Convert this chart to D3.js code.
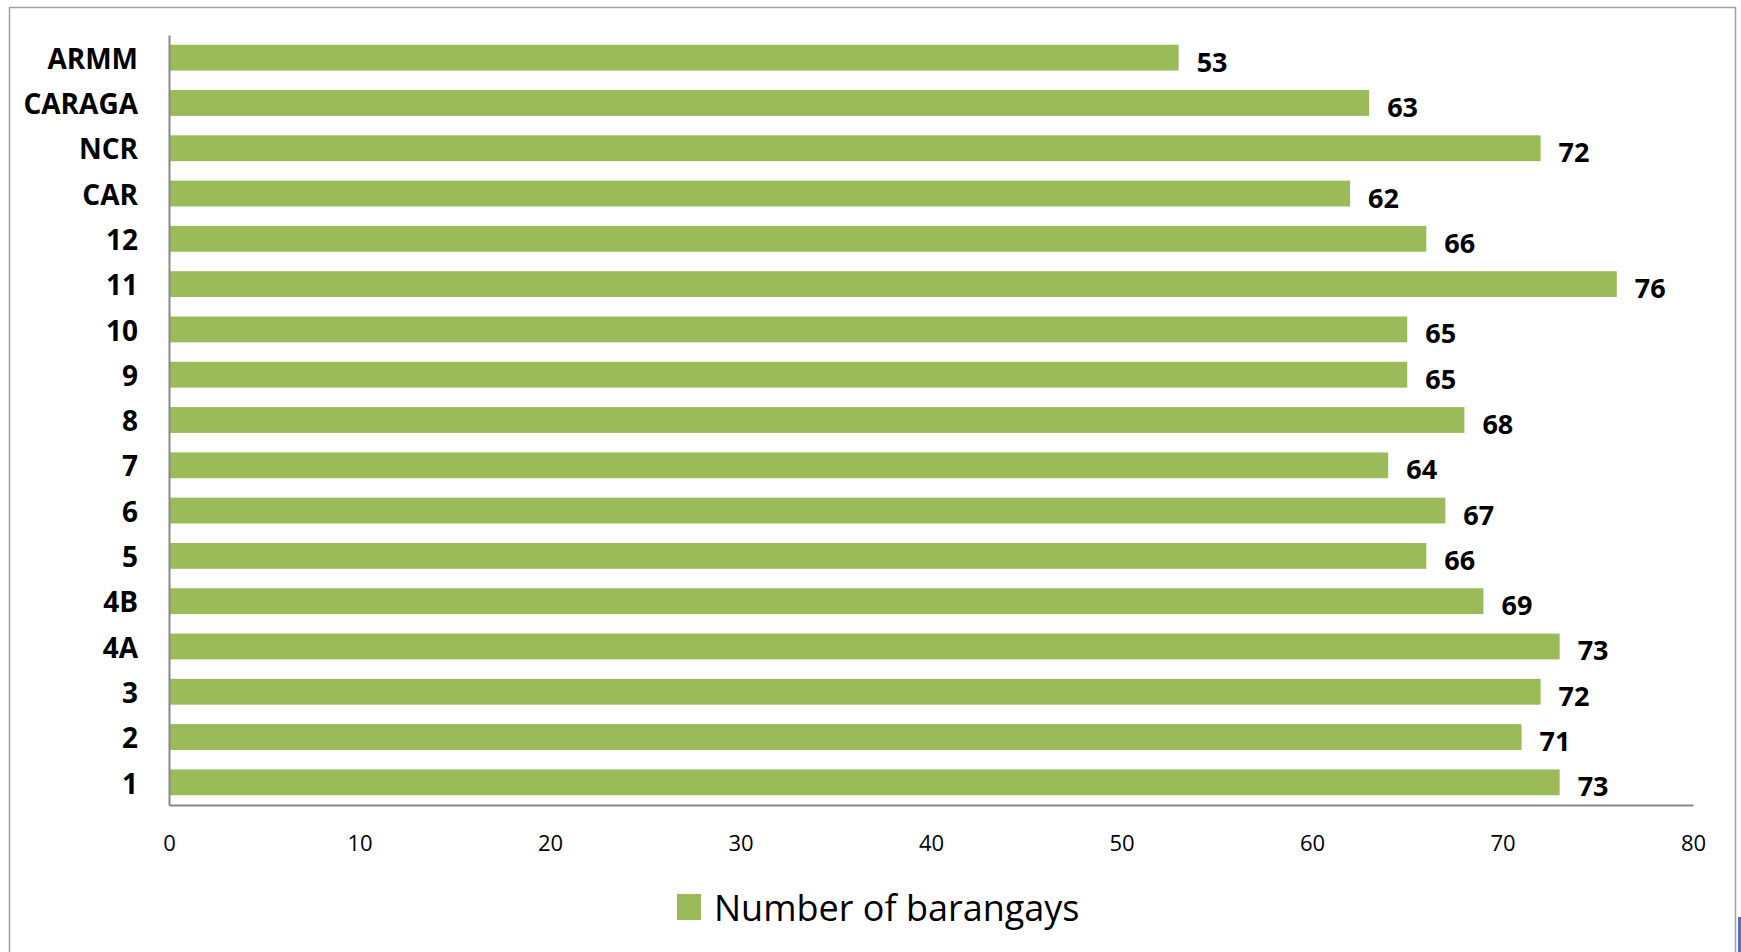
<!DOCTYPE html>
<html>
<head>
<meta charset="utf-8">
<script src="https://cdn.jsdelivr.net/npm/d3@7.9.0/dist/d3.min.js"></script>
<style>
  html, body { margin: 0; padding: 0; background: #fff; }
  svg { display: block; }
</style>
</head>
<body>
<svg width="1741" height="952"></svg>
<script>
// regions, top to bottom as drawn
const regions = ['ARMM', 'CARAGA', 'NCR', 'CAR', '12', '11', '10', '9', '8', '7', '6', '5', '4B', '4A', '3', '2', '1'];
const barangays = [53, 63, 72, 62, 66, 76, 65, 65, 68, 64, 67, 66, 69, 73, 72, 71, 73];
const xTicks = [0, 10, 20, 30, 40, 50, 60, 70, 80];
const seriesName = 'Number of barangays';

const data = regions.map((r, i) => ({ region: r, value: barangays[i] }));

const svg = d3.select('svg');
const green = '#9BBB59';
const font = '"Open Sans", "Noto Sans", sans-serif';

// outer chart border
svg.append('rect')
  .attr('x', 9.5).attr('y', 7.5)
  .attr('width', 1726).attr('height', 960)
  .attr('fill', 'none').attr('stroke', '#a0a0a0').attr('stroke-width', 1.5);
// little bit of window showing at the bottom right
svg.append('rect')
  .attr('x', 1738).attr('y', 917).attr('width', 3).attr('height', 35)
  .attr('fill', '#4a72c4');

const plotL = 169, plotR = 1693, plotT = 35, plotB = 805;

const x = d3.scaleLinear().domain([0, 80]).range([plotL, plotR]);
const y = d3.scaleBand().domain(regions).range([plotT, plotB]).paddingInner(0.43).paddingOuter(0.215);

// bars
svg.append('g').selectAll('rect')
  .data(data)
  .join('rect')
  .attr('x', x(0))
  .attr('y', d => y(d.region))
  .attr('width', d => x(d.value) - x(0))
  .attr('height', y.bandwidth())
  .attr('fill', green);

// value labels
svg.append('g').selectAll('text')
  .data(data)
  .join('text')
  .attr('x', d => x(d.value) + 18)
  .attr('y', d => y(d.region) + y.bandwidth() / 2 + 14)
  .attr('font-family', font)
  .attr('font-weight', 'bold')
  .attr('font-size', 27)
  .attr('fill', '#000')
  .text(d => d.value);

// y axis (category labels)
const yAxis = d3.axisLeft(y).tickSize(0).tickPadding(31);
const gy = svg.append('g').attr('transform', `translate(${plotL},0)`).call(yAxis);
gy.select('.domain').attr('stroke', '#888').attr('stroke-width', 2);
gy.selectAll('text')
  .attr('font-family', font)
  .attr('font-weight', 'bold')
  .attr('font-size', 28)
  .attr('fill', '#000')
  .attr('dy', '0.4em');

// x axis
const xAxis = d3.axisBottom(x).tickValues(xTicks).tickSize(0).tickPadding(30).tickFormat(d3.format('d'));
const gx = svg.append('g').attr('transform', `translate(0,${plotB})`).call(xAxis);
gx.select('.domain').attr('stroke', '#888').attr('stroke-width', 2);
gx.selectAll('text')
  .attr('font-family', font)
  .attr('font-size', 22)
  .attr('fill', '#000');

// legend
const legend = svg.append('g').attr('transform', 'translate(677,894)');
legend.append('rect').attr('width', 24).attr('height', 26).attr('fill', green);
legend.append('text')
  .attr('x', 37).attr('y', 27)
  .attr('font-family', font)
  .attr('font-size', 36)
  .attr('fill', '#000')
  .text(seriesName);
</script>
</body>
</html>
